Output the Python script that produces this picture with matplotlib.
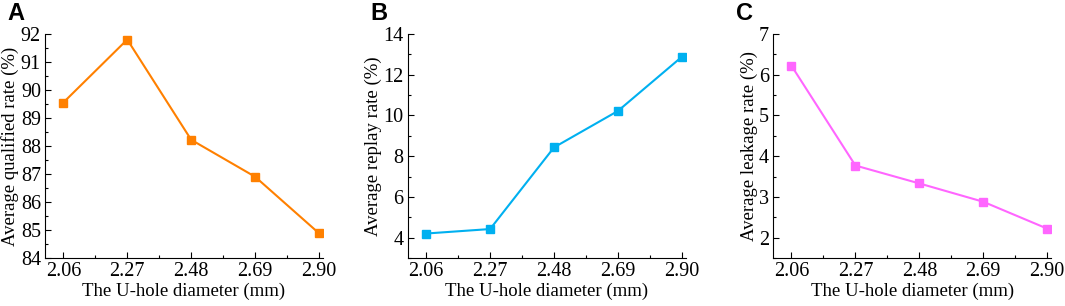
import matplotlib.pyplot as plt
from matplotlib.ticker import AutoMinorLocator

diameters = [2.06, 2.27, 2.48, 2.69, 2.90]
tick_labels = ['2.06', '2.27', '2.48', '2.69', '2.90']
qualified = [89.55, 91.80, 88.22, 86.90, 84.88]
replay = [4.20, 4.42, 8.43, 10.22, 12.88]
leakage = [6.22, 3.77, 3.33, 2.88, 2.22]

plt.rcParams['font.family'] = 'Liberation Serif'

fig = plt.figure(figsize=(10.65, 3.06), dpi=100)

panels = [
    ('A', qualified, '#FF8000', 'Average qualified rate (%)', (84, 92), [84, 85, 86, 87, 88, 89, 90, 91, 92], 0.0423),
    ('B', replay, '#00B0F0', 'Average replay rate (%)', (3, 14), [4, 6, 8, 10, 12, 14], 0.383),
    ('C', leakage, '#FF66FF', 'Average leakage rate (%)', (1.5, 7), [2, 3, 4, 5, 6, 7], 0.726),
]

for letter, values, color, ylabel, ylim, yticks, left in panels:
    ax = fig.add_axes([left, 0.157, 0.261, 0.732])
    ax.plot(diameters, values, color=color, lw=1.5, marker='s', markersize=5.5)
    ax.set_xlim(2.0, 2.913)
    ax.set_ylim(*ylim)
    ax.set_xticks(diameters)
    ax.set_xticklabels(tick_labels)
    ax.set_yticks(yticks)
    ax.xaxis.set_minor_locator(AutoMinorLocator(2))
    ax.yaxis.set_minor_locator(AutoMinorLocator(2))
    ax.tick_params(which='both', direction='in', labelsize=14.5, width=0.8, pad=3)
    ax.tick_params(which='major', length=4)
    ax.tick_params(which='minor', length=2.5)
    ax.spines['top'].set_visible(False)
    ax.spines['right'].set_visible(False)
    ax.set_xlabel('The U-hole diameter (mm)', fontsize=13.5, labelpad=1)
    ax.set_ylabel(ylabel, fontsize=13.5, labelpad=1)
    fig.text(left - 0.035, 0.955, letter, fontsize=17, fontweight='bold',
             family='Liberation Sans', va='center')

fig.savefig('out.png', dpi=100)
